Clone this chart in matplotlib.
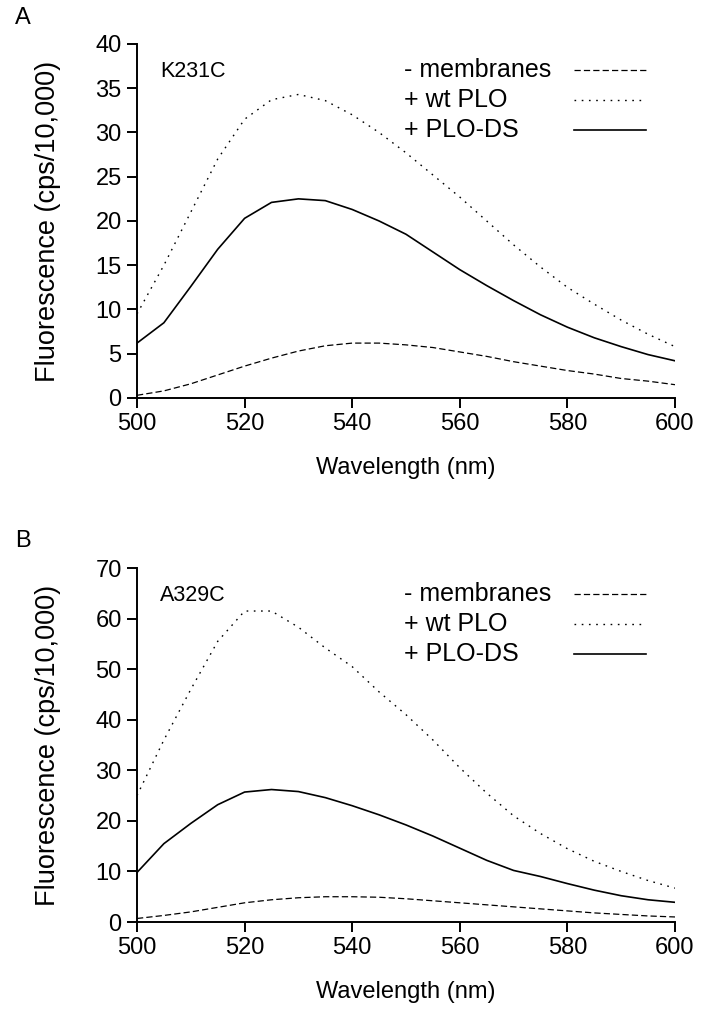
import matplotlib
matplotlib.use("Agg")
import matplotlib.pyplot as plt
import numpy as np

plt.rcParams['font.family'] = ['Liberation Sans', 'DejaVu Sans']

# wavelength grid (nm)
wavelength = [500, 505, 510, 515, 520, 525, 530, 535, 540, 545, 550,
              555, 560, 565, 570, 575, 580, 585, 590, 595, 600]

# panel A - K231C
a_membranes = [0.3, 0.8, 1.6, 2.6, 3.6, 4.5, 5.3, 5.9, 6.2, 6.2, 6.0,
               5.7, 5.2, 4.7, 4.1, 3.6, 3.1, 2.7, 2.2, 1.9, 1.5]
a_wt_plo = [9.5, 15.0, 21.0, 27.0, 31.5, 33.7, 34.3, 33.6, 32.0, 30.0, 27.7,
            25.2, 22.7, 20.0, 17.3, 14.8, 12.5, 10.6, 8.8, 7.2, 5.8]
a_plo_ds = [6.2, 8.5, 12.6, 16.8, 20.3, 22.1, 22.5, 22.3, 21.3, 20.0, 18.5,
            16.5, 14.5, 12.7, 11.0, 9.4, 8.0, 6.8, 5.8, 4.9, 4.2]

# panel B - A329C
b_membranes = [0.7, 1.3, 2.0, 2.9, 3.8, 4.4, 4.8, 5.0, 5.0, 4.9, 4.6,
               4.2, 3.8, 3.4, 3.0, 2.6, 2.2, 1.8, 1.5, 1.2, 1.0]
b_wt_plo = [25.0, 36.0, 46.0, 55.5, 61.5, 61.5, 58.3, 54.2, 50.5, 45.5, 41.0,
            36.0, 30.5, 25.5, 21.0, 17.5, 14.5, 12.0, 10.0, 8.2, 6.7]
b_plo_ds = [9.8, 15.5, 19.5, 23.2, 25.7, 26.2, 25.8, 24.6, 23.0, 21.2, 19.2,
            17.0, 14.6, 12.2, 10.2, 9.0, 7.6, 6.3, 5.2, 4.4, 3.9]

labels = ['- membranes', '+ wt PLO', '+ PLO-DS']
styles = [dict(ls=(0, (5, 2.5)), lw=0.9),
          dict(ls=(0, (1.2, 4.0)), lw=1.0),
          dict(ls='-', lw=1.2)]

fig = plt.figure(figsize=(7.04, 10.16), dpi=100)
ax_a = fig.add_axes([0.1946, 0.6083, 0.7642, 0.3484])
ax_b = fig.add_axes([0.1946, 0.0925, 0.7642, 0.3484])


def draw_panel(ax, series, ymax, ystep, name):
    for vals, st in zip(series, styles):
        ax.plot(wavelength, vals, color='black', **st)
    ax.set_xlim(500, 600)
    ax.set_ylim(0, ymax)
    ax.set_xticks(np.arange(500, 601, 20))
    ax.set_yticks(np.arange(0, ymax + 1, ystep))
    for s in ['top', 'right']:
        ax.spines[s].set_visible(False)
    for s in ['left', 'bottom']:
        ax.spines[s].set_linewidth(1.4)
    ax.tick_params(direction='out', length=7, width=1.4, labelsize=17, pad=4)
    ax.set_xlabel('Wavelength (nm)', fontsize=17)
    ax.set_ylabel('Fluorescence (cps/10,000)', fontsize=19.5)
    ax.xaxis.set_label_coords(0.5, -0.197)
    ax.xaxis.label.set_va('center')
    ax.yaxis.set_label_coords(-0.165, 0.5)
    ax.yaxis.label.set_va('center')
    ax.text(0.043, 0.922, name, transform=ax.transAxes, fontsize=15.5,
            va='center', ha='left')
    # legend: text left, line sample right
    rows = [0.927, 0.842, 0.757]
    for lab, st, yy in zip(labels, styles, rows):
        ax.text(0.497, yy, lab, transform=ax.transAxes, fontsize=18,
                va='center', ha='left')
        ax.plot([0.812, 0.946], [yy, yy], transform=ax.transAxes,
                color='black', clip_on=False, **st)


draw_panel(ax_a, [a_membranes, a_wt_plo, a_plo_ds], 40, 5, 'K231C')
draw_panel(ax_b, [b_membranes, b_wt_plo, b_plo_ds], 70, 10, 'A329C')

fig.text(0.033, 0.982, 'A', fontsize=17, ha='center', va='center')
fig.text(0.033, 0.468, 'B', fontsize=17, ha='center', va='center')

fig.savefig('out.png', dpi=100)
